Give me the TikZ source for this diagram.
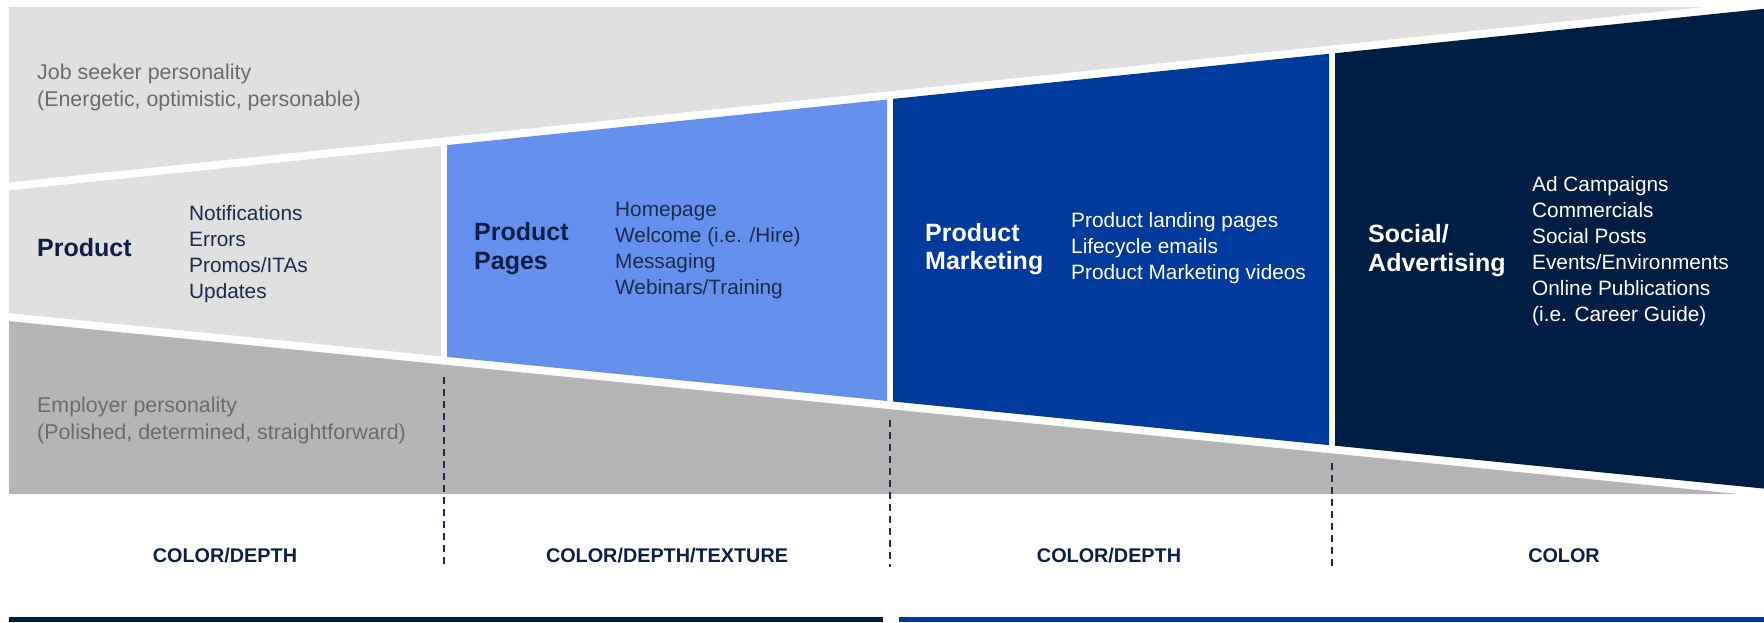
\documentclass[tikz,border=0pt]{standalone}
\usepackage{fontspec}
\setmainfont{Liberation Sans}
\definecolor{lightgrey}{HTML}{E0E0E0}
\definecolor{midgrey}{HTML}{B5B5B5}
\definecolor{ppblue}{HTML}{6690EE}
\definecolor{pmblue}{HTML}{003A9C}
\definecolor{navyfill}{HTML}{001E44}
\definecolor{navytext}{HTML}{0B1F45}
\definecolor{itemtext}{HTML}{1A2B4C}
\definecolor{greytext}{HTML}{6B6B6B}
\definecolor{dashcol}{HTML}{1B2B4B}
\begin{document}
\begin{tikzpicture}[x=1pt,y=-1pt,
  persona/.style={inner sep=0pt,anchor=west,align=left,text=greytext,font=\fontsize{21.4}{27}\selectfont},
  itemtxt/.style={inner sep=0pt,anchor=west,align=left,text=itemtext,font=\fontsize{20.8}{26}\selectfont},
  titletxt/.style={inner sep=0pt,anchor=west,align=left,text=navytext,font=\fontsize{25}{28.5}\selectfont\bfseries},
  labeltxt/.style={inner sep=0pt,anchor=center,text=navytext,font=\fontsize{19.8}{22}\selectfont\bfseries},
  sepline/.style={draw=dashcol,line width=2pt,dash pattern=on 7pt off 5pt}]
\useasboundingbox (0,0) rectangle (1764,622);
% bands
\fill[lightgrey] (9,7) -- (1703.7,7) -- (9,182.4) -- cycle;
\fill[midgrey] (9,321.1) -- (1738,494) -- (9,494) -- cycle;
% blocks
\fill[lightgrey] (9,190.4) -- (441,145.7) -- (441,356.3) -- (9,313.1) -- cycle;
\fill[ppblue] (447,145.1) -- (887,99.5) -- (887,400.9) -- (447,356.9) -- cycle;
\fill[pmblue] (893,98.9) -- (1329,53.8) -- (1329,445.1) -- (893,401.5) -- cycle;
\fill[navyfill] (1335,53.2) -- (1764,8.8) -- (1764,488.6) -- (1335,445.7) -- cycle;
% bottom bars
\fill[navyfill] (9,617) rectangle (883,622);
\fill[pmblue] (899,617) rectangle (1764,622);
% dashed separators
\coordinate (d1a) at (444,377); \coordinate (d1b) at (444,567);
\coordinate (d2a) at (890,420); \coordinate (d2b) at (890,567);
\coordinate (d3a) at (1332,463); \coordinate (d3b) at (1332,570);
\draw[sepline] (d1a) -- (d1b);
\draw[sepline] (d2a) -- (d2b);
\draw[sepline] (d3a) -- (d3b);
% texts
\node[persona] (js) at (37,87) {Job seeker personality\\(Energetic, optimistic, personable)};
\node[persona] (emp) at (37,420.5) {Employer personality\\(Polished, determined, straightforward)};
\node[titletxt] (t1) at (37,247.5) {Product};
\node[itemtxt] (i1) at (189,254) {Notifications\\Errors\\Promos/ITAs\\Updates};
\node[titletxt] (t2) at (474,248.5) {Product\\Pages};
\node[itemtxt] (i2) at (615,250.5) {Homepage\\Welcome (i.e. /Hire)\\Messaging\\Webinars/Training};
\node[titletxt,text=white] (t3) at (925,249) {Product\\Marketing};
\node[itemtxt,text=white] (i3) at (1071,248.5) {Product landing pages\\Lifecycle emails\\Product Marketing videos};
\node[titletxt,text=white] (t4) at (1368,250.5) {Social/\\Advertising};
\node[itemtxt,text=white] (i4) at (1532,251.5) {Ad Campaigns\\Commercials\\Social Posts\\Events/Environments\\Online Publications\\(i.e. Career Guide)};
\node[labeltxt] (l1) at (225,556) {COLOR/DEPTH};
\node[labeltxt] (l2) at (667,556) {COLOR/DEPTH/TEXTURE};
\node[labeltxt] (l3) at (1109,556) {COLOR/DEPTH};
\node[labeltxt] (l4) at (1564,556) {COLOR};
\end{tikzpicture}
\end{document}
